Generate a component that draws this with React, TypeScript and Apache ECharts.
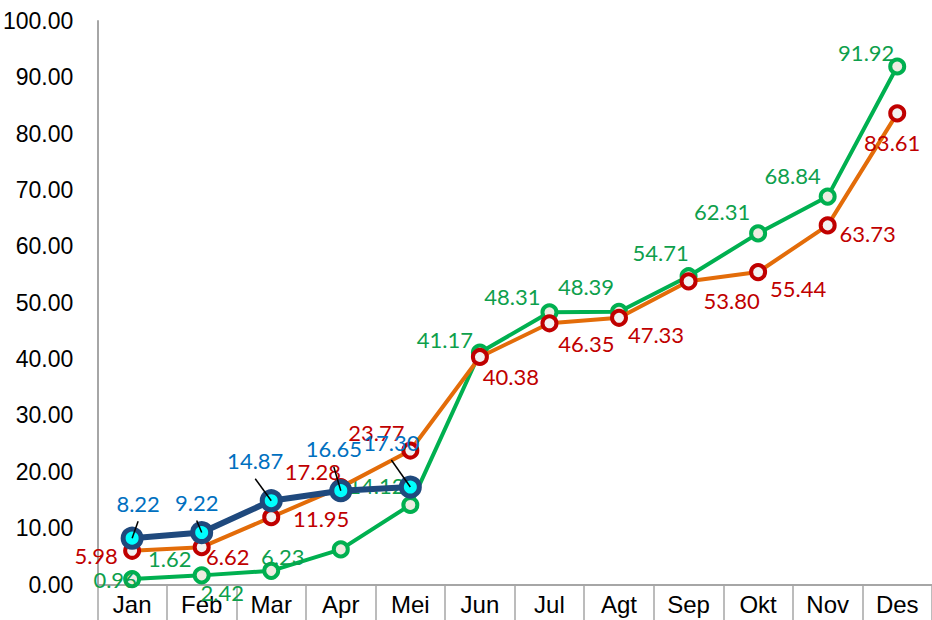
import React, { useEffect, useRef } from "react";
import * as echarts from "echarts";

const categories = ["Jan", "Feb", "Mar", "Apr", "Mei", "Jun", "Jul", "Agt", "Sep", "Okt", "Nov", "Des"];
const greenValues = [0.96, 1.62, 2.42, 6.23, 14.12, 41.17, 48.31, 48.39, 54.71, 62.31, 68.84, 91.92];
const redValues = [5.98, 6.62, 11.95, 17.28, 23.77, 40.38, 46.35, 47.33, 53.8, 55.44, 63.73, 83.61];
const blueValues = [8.22, 9.22, 14.87, 16.65, 17.3];

// label placement (style, pixels relative to each point)
const greenLabelOffsets = [[-17, 0], [-32, -17], [-49, 22], [-58, 7], [-34, -19], [-35, -13], [-37, -16], [-33, -25], [-28, -24], [-36, -22], [-35, -21], [-31, -14]];
const redLabelOffsets = [[-36, 5], [26, 9], [50, 1], [-28, -16], [-34, -18], [31, 20], [37, 20], [37, 17], [43, 19], [40, 16], [40, 8], [-5, 29]];
const blueLabelOffsets = [[6, -35], [-5, -30], [-16, -40], [-7, -42], [-19, -45]];

const AXIS_FONT = "'Liberation Sans Narrow', 'Arial Narrow', 'Liberation Sans', Arial, sans-serif";
const LABEL_FONT = "Lato, 'Open Sans', sans-serif";

function withLabels(values: number[], offsets: number[][]) {
  return values.map((v, i) => ({
    value: v,
    label: { offset: offsets[i] },
  }));
}

export default function App() {
  const ref = useRef<HTMLDivElement>(null);
  useEffect(() => {
    if (!ref.current) return;
    const chart = echarts.init(ref.current, undefined, { renderer: "svg" });
    const labelBase = {
      show: true,
      position: "inside",
      fontFamily: LABEL_FONT,
      fontSize: 22,
      formatter: (p: any) => Number(p.value).toFixed(2),
    };
    chart.setOption({
      animation: false,
      backgroundColor: "#ffffff",
      grid: { left: 97, top: 21, width: 841, height: 563.5, containLabel: false },
      xAxis: {
        type: "category",
        data: categories,
        boundaryGap: true,
        axisLine: { show: true, lineStyle: { color: "#a6a6a6", width: 2 } },
        axisTick: { show: true, interval: 0, length: 40, lineStyle: { color: "#a6a6a6", width: 1.5 } },
        axisLabel: { color: "#000", fontFamily: AXIS_FONT, fontSize: 24, margin: 8, interval: 0 },
        splitLine: { show: false },
      },
      yAxis: {
        type: "value",
        min: 0,
        max: 100,
        interval: 10,
        axisLine: { show: true, lineStyle: { color: "#a6a6a6", width: 2 } },
        axisTick: { show: false },
        splitLine: { show: false },
        axisLabel: {
          color: "#000",
          fontFamily: AXIS_FONT,
          fontSize: 23,
          margin: 24,
          formatter: (v: number) => v.toFixed(2),
        },
      },
      series: [
        {
          type: "line",
          data: withLabels(greenValues, greenLabelOffsets),
          symbol: "circle",
          symbolSize: 14,
          lineStyle: { color: "#00B050", width: 4 },
          itemStyle: { color: "#EEECE1", borderColor: "#00B050", borderWidth: 4 },
          label: { ...labelBase, color: "#0E9F4C" },
          z: 2,
        },
        {
          type: "line",
          data: withLabels(redValues, redLabelOffsets),
          symbol: "circle",
          symbolSize: 14,
          lineStyle: { color: "#E36C09", width: 4 },
          itemStyle: { color: "#F2F2F2", borderColor: "#C00000", borderWidth: 4 },
          label: { ...labelBase, color: "#C00000" },
          z: 3,
        },
        {
          type: "line",
          data: withLabels(blueValues, blueLabelOffsets),
          symbol: "circle",
          symbolSize: 18,
          lineStyle: { color: "#1F497D", width: 6 },
          itemStyle: { color: "#00FFFF", borderColor: "#1F497D", borderWidth: 5 },
          label: { ...labelBase, color: "#0070C0" },
          z: 4,
        },
        {
          type: "custom",
          data: blueValues.map((v, i) => [i, v]),
          z: 6,
          silent: true,
          renderItem: (params: any, api: any) => {
            const i = api.value(0);
            const p = api.coord([i, api.value(1)]);
            const o = blueLabelOffsets[i];
            return {
              type: "line",
              shape: { x1: p[0], y1: p[1], x2: p[0] + o[0], y2: p[1] + o[1] + 18 },
              style: { stroke: "#000", lineWidth: 1.5 },
            };
          },
        },
      ],
    });
    return () => chart.dispose();
  }, []);
  return (
    <div
      ref={ref}
      style={{ position: "fixed", left: 0, top: 0, width: 932, height: 620, background: "#fff" }}
    />
  );
}
